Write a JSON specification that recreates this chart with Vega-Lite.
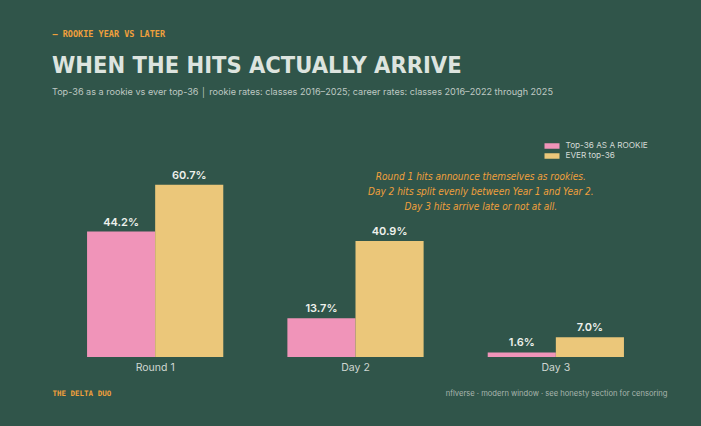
{
  "$schema": "https://vega.github.io/schema/vega-lite/v6.json",
  "width": 601,
  "height": 227,
  "autosize": {"type": "none"},
  "padding": {"left": 55, "right": 45, "top": 130, "bottom": 69},
  "background": "#30554a",
  "title": {
    "text": "WHEN THE HITS ACTUALLY ARRIVE",
    "subtitle": "Top-36 as a rookie vs ever top-36  │  rookie rates: classes 2016–2025; career rates: classes 2016–2022 through 2025",
    "anchor": "start",
    "frame": "group",
    "dx": -3,
    "offset": -68,
    "font": "DejaVu Sans Condensed, sans-serif",
    "fontSize": 23.5,
    "fontWeight": "bold",
    "color": "#dde4df",
    "subtitleFont": "Inter, sans-serif",
    "subtitleFontSize": 9.1,
    "subtitleColor": "#bfc9c3",
    "subtitlePadding": 10
  },
  "datasets": {
    "rates": [
      {"round": "Round 1", "metric": "Top-36 AS A ROOKIE", "pct": 0.442},
      {"round": "Round 1", "metric": "EVER top-36", "pct": 0.607},
      {"round": "Day 2", "metric": "Top-36 AS A ROOKIE", "pct": 0.137},
      {"round": "Day 2", "metric": "EVER top-36", "pct": 0.409},
      {"round": "Day 3", "metric": "Top-36 AS A ROOKIE", "pct": 0.016},
      {"round": "Day 3", "metric": "EVER top-36", "pct": 0.07}
    ],
    "note": [
      {"note": ["Round 1 hits announce themselves as rookies.", "Day 2 hits split evenly between Year 1 and Year 2.", "Day 3 hits arrive late or not at all."]}
    ]
  },
  "encoding": {
    "x": {
      "field": "round",
      "type": "nominal",
      "sort": ["Round 1", "Day 2", "Day 3"],
      "scale": {"paddingInner": 0.32, "paddingOuter": 0.16},
      "axis": {
        "labelAngle": 0,
        "labelFont": "Inter, sans-serif",
        "labelFontSize": 10.5,
        "labelColor": "#cfd7d2",
        "labelPadding": 5,
        "ticks": false,
        "domain": false,
        "title": "nflverse  ·  modern window  ·  see honesty section for censoring",
        "titleFont": "Inter, sans-serif",
        "titleFontSize": 7.6,
        "titleFontWeight": "normal",
        "titleColor": "#a9b6ae",
        "titleAlign": "right",
        "titleBaseline": "middle",
        "titleX": 612,
        "titleY": 36
      }
    }
  },
  "layer": [
    {
      "data": {"name": "rates"},
      "mark": {"type": "bar"},
      "encoding": {
        "xOffset": {"field": "metric", "type": "nominal", "sort": ["Top-36 AS A ROOKIE", "EVER top-36"], "scale": {"paddingInner": 0}},
        "y": {
          "field": "pct",
          "type": "quantitative",
          "scale": {"domain": [0, 0.8]},
          "axis": {
            "orient": "left",
            "labels": false,
            "ticks": false,
            "domain": false,
            "grid": false,
            "title": "— ROOKIE YEAR VS LATER",
            "titleAngle": 0,
            "titleAlign": "left",
            "titleBaseline": "middle",
            "titleX": -3,
            "titleY": -97,
            "titleFont": "DejaVu Sans Mono, monospace",
            "titleFontSize": 8.5,
            "titleFontWeight": "bold",
            "titleColor": "#f0a03c"
          }
        },
        "color": {
          "field": "metric",
          "type": "nominal",
          "sort": ["Top-36 AS A ROOKIE", "EVER top-36"],
          "scale": {"domain": ["Top-36 AS A ROOKIE", "EVER top-36"], "range": ["#f094b9", "#ebc77a"]},
          "legend": {
            "title": null,
            "orient": "none",
            "legendX": 492,
            "legendY": 11,
            "padding": 0,
            "rowPadding": 1,
            "symbolType": "M-1.5,-0.55H1.5V0.55H-1.5Z",
            "symbolSize": 100,
            "symbolStrokeWidth": 0,
            "symbolOpacity": 1,
            "labelOffset": 8.5,
            "labelFont": "Inter, sans-serif",
            "labelFontSize": 8.2,
            "labelColor": "#d3dad6"
          }
        }
      }
    },
    {
      "data": {"name": "rates"},
      "mark": {"type": "text", "baseline": "bottom", "dy": -4, "font": "Inter, sans-serif", "fontSize": 11, "fontWeight": 600, "color": "#eef1ec"},
      "encoding": {
        "xOffset": {"field": "metric", "type": "nominal", "sort": ["Top-36 AS A ROOKIE", "EVER top-36"], "scale": {"paddingInner": 0}},
        "y": {
          "field": "pct",
          "type": "quantitative",
          "scale": {"domain": [0, 0.8]},
          "axis": {
            "orient": "right",
            "labels": false,
            "ticks": false,
            "domain": false,
            "grid": false,
            "title": "THE DELTA DUO",
            "titleAngle": 0,
            "titleAlign": "left",
            "titleBaseline": "middle",
            "titleX": -604,
            "titleY": 263,
            "titleFont": "DejaVu Sans Mono, monospace",
            "titleFontSize": 7.5,
            "titleFontWeight": "bold",
            "titleColor": "#f0a03c"
          }
        },
        "text": {"field": "pct", "type": "quantitative", "format": ".1%"}
      }
    },
    {
      "data": {"name": "note"},
      "mark": {"type": "text", "align": "center", "baseline": "middle", "dx": -75, "lineHeight": 15, "font": "DejaVu Sans Condensed, sans-serif", "fontStyle": "italic", "fontSize": 10, "color": "#f0a03c"},
      "encoding": {
        "x": {"datum": "Day 3"},
        "y": {"datum": 0.634, "scale": {"domain": [0, 0.8]}, "axis": null},
        "text": {"field": "note"}
      }
    }
  ],
  "resolve": {"scale": {"y": "independent"}, "axis": {"y": "independent"}},
  "config": {
    "view": {"stroke": null}
  }
}
